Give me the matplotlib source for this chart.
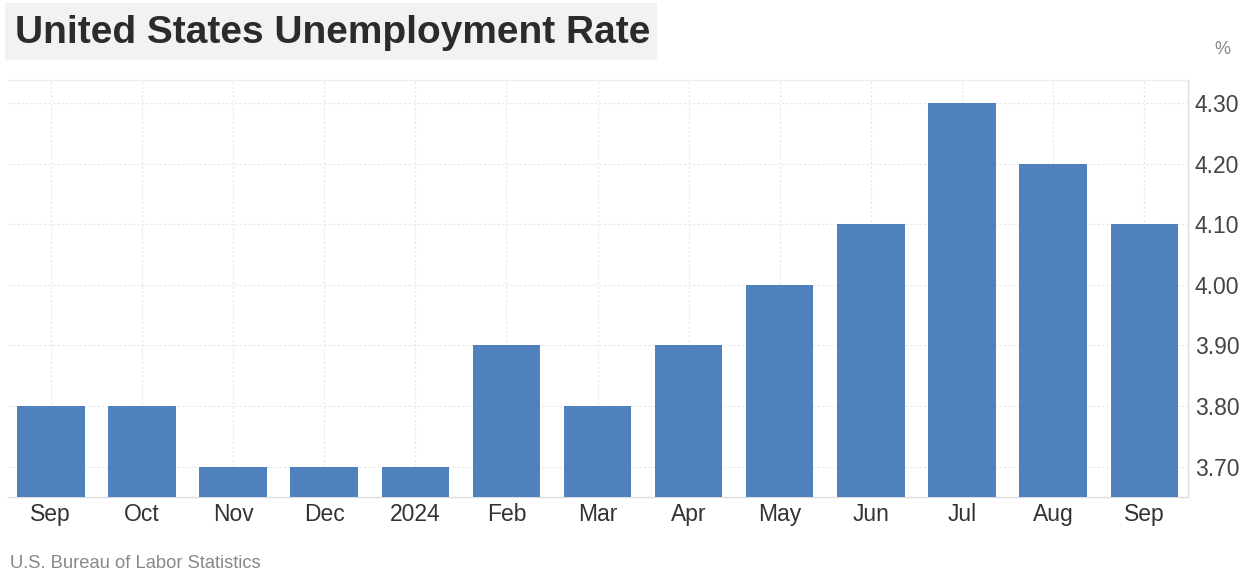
import matplotlib
matplotlib.use("Agg")
import matplotlib.pyplot as plt
from matplotlib.patches import Rectangle
from matplotlib.ticker import FixedLocator, FuncFormatter

categories = ["Sep", "Oct", "Nov", "Dec", "2024", "Feb", "Mar", "Apr", "May", "Jun", "Jul", "Aug", "Sep"]
values = [3.8, 3.8, 3.7, 3.7, 3.7, 3.9, 3.8, 3.9, 4.0, 4.1, 4.3, 4.2, 4.1]
yticks = [3.7, 3.8, 3.9, 4.0, 4.1, 4.2, 4.3]

plt.rcParams['font.family'] = ['Liberation Sans', 'DejaVu Sans']

W, H = 1253, 574
fig = plt.figure(figsize=(W / 100, H / 100), dpi=100)
fig.patch.set_facecolor("white")

ax = fig.add_axes([8 / W, 1 - 497 / H, (1188 - 8) / W, (497 - 80) / H])
x = list(range(len(categories)))
ax.bar(x, values, width=0.74, color="#4f81bd", zorder=3)
ax.set_xlim(-0.47, 12.48)
ax.set_ylim(3.65, 4.338)

ax.set_xticks(x)
ax.set_xticklabels(categories, fontsize=16.5, color="#333333")
ax.yaxis.set_major_locator(FixedLocator(yticks))
ax.yaxis.set_major_formatter(FuncFormatter(lambda v, p: f"{v:.2f}"))
ax.yaxis.tick_right()
ax.tick_params(axis="y", labelsize=16.5, labelcolor="#444444", length=0, pad=5)
ax.tick_params(axis="x", length=0, pad=4)

ax.grid(True, color="#e6e6e6", linestyle=(0, (2, 2)), linewidth=0.8, zorder=0)
ax.spines["left"].set_visible(False)
ax.spines["top"].set_color("#eeeeee")
ax.spines["right"].set_color("#dddddd")
ax.spines["bottom"].set_color("#dddddd")
for s in ["top", "right", "bottom"]:
    ax.spines[s].set_linewidth(1.0)

# title box
fig.patches.append(Rectangle((5 / W, 1 - 60 / H), 652 / W, 57 / H, transform=fig.transFigure,
                             facecolor="#f2f2f2", edgecolor="none", zorder=0))
fig.text(15 / W, 1 - 43 / H, "United States Unemployment Rate", fontsize=28, fontweight="bold",
         color="#2b2b2b", va="baseline", ha="left")
fig.text(1222 / W, 1 - 50 / H, "%", fontsize=13, color="#888888", ha="center", va="center")
fig.text(10 / W, 1 - 563 / H, "U.S. Bureau of Labor Statistics", fontsize=13.2, color="#888888",
         ha="left", va="center")

fig.savefig("out.png", dpi=100)
